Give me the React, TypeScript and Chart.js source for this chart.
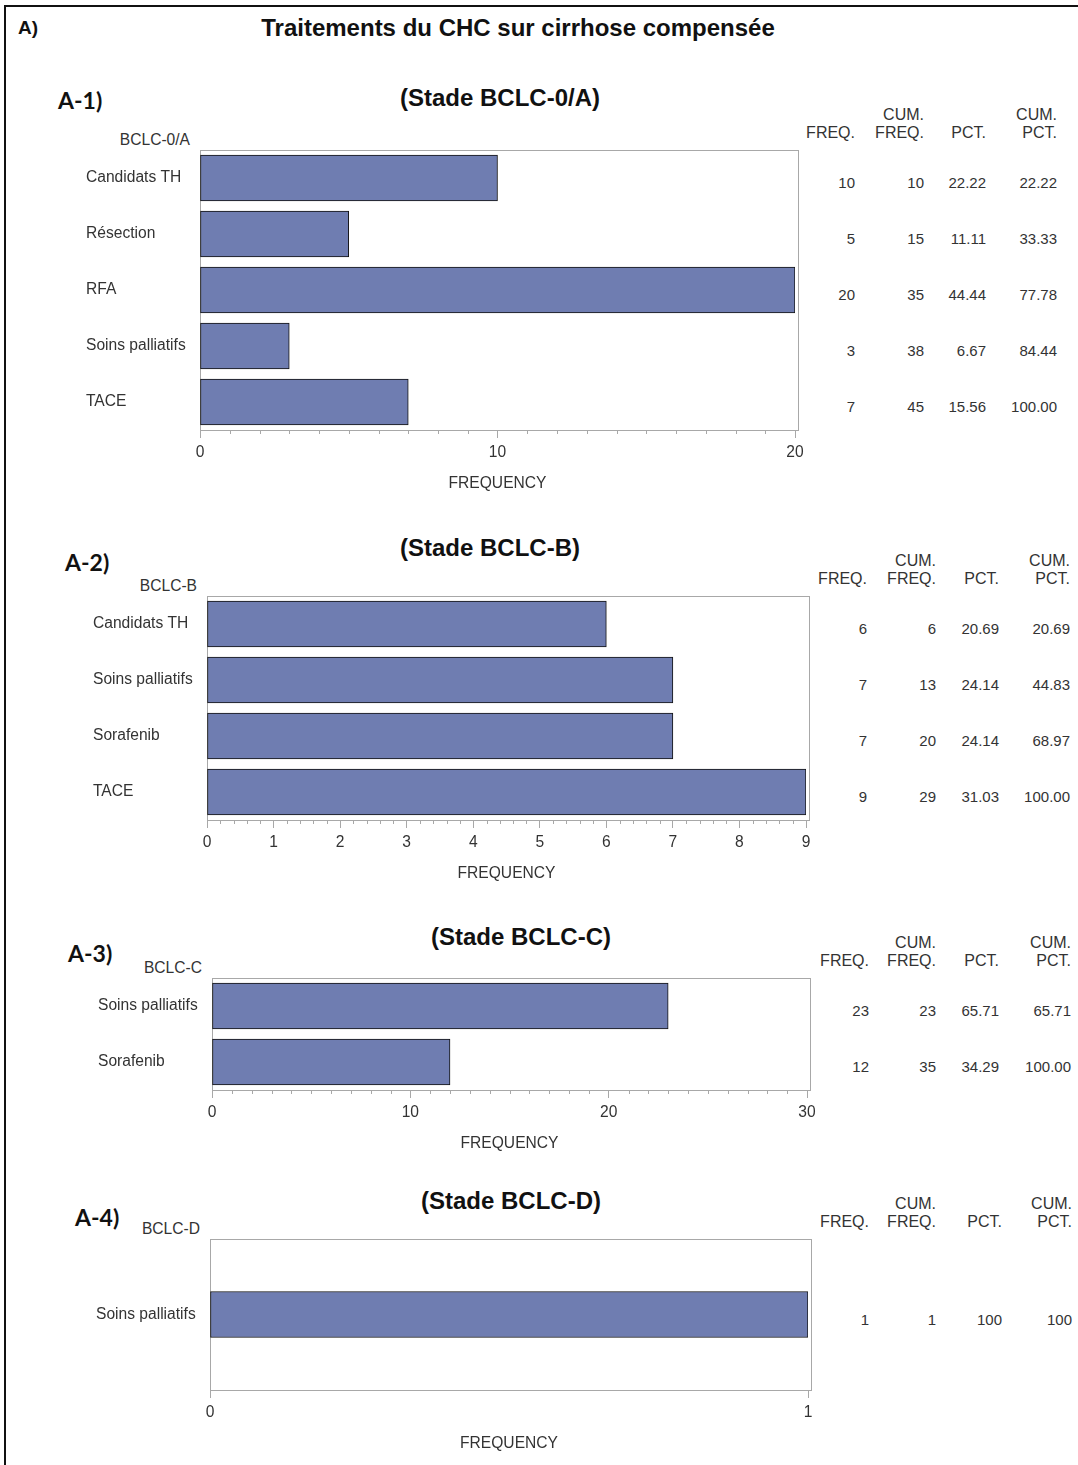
import React, { useEffect, useRef } from "react";
import { Chart, registerables } from "chart.js";

Chart.register(...registerables);

// ---------- data ----------
const mainTitle = "Traitements du CHC sur cirrhose compensée";
const panelTags = ["A-1)", "A-2)", "A-3)", "A-4)"];
const stageTitles = ["(Stade BCLC-0/A)", "(Stade BCLC-B)", "(Stade BCLC-C)", "(Stade BCLC-D)"];
const stageNames = ["BCLC-0/A", "BCLC-B", "BCLC-C", "BCLC-D"];
const axisTitle = "FREQUENCY";
const headLine1 = ["", "CUM.", "", "CUM."];
const headLine2 = ["FREQ.", "FREQ.", "PCT.", "PCT."];

const cats1 = ["Candidats TH", "Résection", "RFA", "Soins palliatifs", "TACE"];
const freq1 = [10, 5, 20, 3, 7];
const cumFreq1 = ["10", "15", "35", "38", "45"];
const pct1 = ["22.22", "11.11", "44.44", "6.67", "15.56"];
const cumPct1 = ["22.22", "33.33", "77.78", "84.44", "100.00"];

const cats2 = ["Candidats TH", "Soins palliatifs", "Sorafenib", "TACE"];
const freq2 = [6, 7, 7, 9];
const cumFreq2 = ["6", "13", "20", "29"];
const pct2 = ["20.69", "24.14", "24.14", "31.03"];
const cumPct2 = ["20.69", "44.83", "68.97", "100.00"];

const cats3 = ["Soins palliatifs", "Sorafenib"];
const freq3 = [23, 12];
const cumFreq3 = ["23", "35"];
const pct3 = ["65.71", "34.29"];
const cumPct3 = ["65.71", "100.00"];

const cats4 = ["Soins palliatifs"];
const freq4 = [1];
const cumFreq4 = ["1"];
const pct4 = ["100"];
const cumPct4 = ["100"];

const axisMax = [20, 9, 30, 1];
const majorStep = [10, 1, 10, 1];
const minorStep = [1, 0.2, 1, 0];

// ---------- layout (positions only) ----------
type Layout = {
  labelX: number; frameLeft: number; frameTop: number; frameBottom: number; valueRight: number;
  tagX: number; tagY: number; titleX: number; titleY: number; cols: number[];
};
const layouts: Layout[] = [
  { labelX: 86, frameLeft: 200, frameTop: 150, frameBottom: 430, valueRight: 795, tagX: 58, tagY: 100, titleX: 500, titleY: 98, cols: [855, 924, 986, 1057] },
  { labelX: 93, frameLeft: 207, frameTop: 596, frameBottom: 820, valueRight: 806, tagX: 65, tagY: 562, titleX: 490, titleY: 548, cols: [867, 936, 999, 1070] },
  { labelX: 98, frameLeft: 212, frameTop: 978, frameBottom: 1090, valueRight: 807, tagX: 68, tagY: 953, titleX: 521, titleY: 937, cols: [869, 936, 999, 1071] },
  { labelX: 96, frameLeft: 210, frameTop: 1239, frameBottom: 1390, valueRight: 808, tagX: 75, tagY: 1217, titleX: 511, titleY: 1201, cols: [869, 936, 1002, 1072] },
];

const FONT = "'Liberation Sans', Arial, Helvetica, sans-serif";
const TEXT = "#333333";
const FRAME = "#a8a8a8";
const BAR = "#6f7db1";
const LABEL_SIZE = 15.6;

const PAD_TOP = 10;
const PAD_RIGHT = 20;
const XAXIS_H = 63;

type PanelData = {
  cats: string[]; freq: number[]; cols: string[][];
};
const panels: PanelData[] = [
  { cats: cats1, freq: freq1, cols: [freq1.map(String), cumFreq1, pct1, cumPct1] },
  { cats: cats2, freq: freq2, cols: [freq2.map(String), cumFreq2, pct2, cumPct2] },
  { cats: cats3, freq: freq3, cols: [freq3.map(String), cumFreq3, pct3, cumPct3] },
  { cats: cats4, freq: freq4, cols: [freq4.map(String), cumFreq4, pct4, cumPct4] },
];

function Txt(props: { x: number; y: number; text: string; size: number; bold?: boolean; align?: "left" | "right" | "center"; family?: string; color?: string }) {
  const { x, y, text, size, bold, align = "left", family = FONT, color = TEXT } = props;
  const tx = align === "left" ? "0" : align === "right" ? "-100%" : "-50%";
  return (
    <div
      style={{
        position: "absolute", left: x, top: y, transform: `translate(${tx}, -50%)`,
        fontFamily: family, fontSize: size, fontWeight: bold ? 700 : 400, lineHeight: 1,
        whiteSpace: "nowrap", color,
      }}
    >
      {text}
    </div>
  );
}

function Panel({ idx }: { idx: number }) {
  const ref = useRef<HTMLCanvasElement | null>(null);
  const L = layouts[idx];
  const P = panels[idx];
  const width = L.valueRight + PAD_RIGHT - L.labelX;
  const height = PAD_TOP + (L.frameBottom - L.frameTop) + XAXIS_H;

  useEffect(() => {
    if (!ref.current) return;
    const minor = minorStep[idx];
    const major = majorStep[idx];
    const framePlugin = {
      id: "frame" + idx,
      beforeDatasetsDraw(chart: any) {
        const { ctx, chartArea } = chart;
        ctx.save();
        ctx.strokeStyle = FRAME;
        ctx.lineWidth = 1;
        ctx.strokeRect(
          Math.round(chartArea.left) + 0.5,
          Math.round(chartArea.top) + 0.5,
          Math.round(chartArea.right - chartArea.left) + 3,
          Math.round(chartArea.bottom - chartArea.top)
        );
        // minor ticks
        if (minor > 0) {
          const xs = chart.scales.x;
          const n = Math.round(axisMax[idx] / minor);
          ctx.beginPath();
          for (let i = 0; i <= n; i++) {
            const v = i * minor;
            const r = v / major;
            if (Math.abs(r - Math.round(r)) < 1e-6) continue;
            const px = Math.round(xs.getPixelForValue(v)) + 0.5;
            ctx.moveTo(px, chartArea.bottom);
            ctx.lineTo(px, chartArea.bottom + 4);
          }
          ctx.stroke();
        }
        ctx.restore();
      },
    };

    const chart = new Chart(ref.current, {
      type: "bar",
      data: {
        labels: P.cats,
        datasets: [
          {
            data: P.freq,
            backgroundColor: BAR,
            borderColor: "#111111",
            borderWidth: 1,
            borderSkipped: false,
            barThickness: 46,
          },
        ],
      },
      options: {
        indexAxis: "y",
        animation: false,
        responsive: false,
        maintainAspectRatio: false,
        events: [],
        layout: { padding: { top: PAD_TOP, right: PAD_RIGHT, left: 0, bottom: 0 } },
        plugins: { legend: { display: false }, tooltip: { enabled: false }, title: { display: false } },
        scales: {
          y: {
            type: "category",
            grid: { display: false },
            border: { display: false },
            ticks: {
              crossAlign: "far",
              color: TEXT,
              font: { family: FONT, size: LABEL_SIZE },
              padding: 0,
            },
            afterFit(scale: any) {
              scale.width = L.frameLeft - L.labelX;
            },
          },
          x: {
            type: "linear",
            min: 0,
            max: axisMax[idx],
            grid: { display: true, drawOnChartArea: false, drawTicks: true, tickLength: 8, color: FRAME, tickColor: FRAME },
            border: { display: false },
            ticks: {
              stepSize: major,
              autoSkip: false,
              maxRotation: 0,
              color: TEXT,
              padding: 5,
              font: { family: FONT, size: LABEL_SIZE },
            },
            title: {
              display: true,
              text: axisTitle,
              color: TEXT,
              font: { family: FONT, size: LABEL_SIZE },
              padding: { top: 0, bottom: 0 },
            },
            afterFit(scale: any) {
              scale.height = XAXIS_H;
            },
          },
        },
      },
      plugins: [framePlugin],
    } as any);
    return () => chart.destroy();
  }, [idx]);

  const band = (L.frameBottom - L.frameTop) / P.cats.length;

  return (
    <>
      <Txt x={L.tagX} y={L.tagY} text={panelTags[idx]} size={23} bold family="Lato, 'Open Sans', sans-serif" color="#111" />
      <Txt x={L.titleX} y={L.titleY} text={stageTitles[idx]} size={24} bold align="center" color="#111" />
      <Txt x={L.frameLeft - 10} y={L.frameTop - 10} text={stageNames[idx]} size={LABEL_SIZE} align="right" />
      {L.cols.map((cx, c) => (
        <React.Fragment key={"h" + c}>
          {headLine1[c] ? <Txt x={cx} y={L.frameTop - 35} text={headLine1[c]} size={16} align="right" /> : null}
          <Txt x={cx} y={L.frameTop - 17} text={headLine2[c]} size={16} align="right" />
        </React.Fragment>
      ))}
      {P.cats.map((_, r) =>
        L.cols.map((cx, c) => (
          <Txt key={"v" + r + "_" + c} x={cx} y={L.frameTop + (r + 0.5) * band + 4} text={P.cols[c][r]} size={15} align="right" />
        ))
      )}
      <canvas
        ref={ref}
        width={width}
        height={height}
        style={{ position: "absolute", left: L.labelX, top: L.frameTop - PAD_TOP, width, height }}
      />
    </>
  );
}

export default function App() {
  return (
    <div
      style={{
        position: "absolute", left: 0, top: 0, width: 1078, height: 1465, overflow: "hidden",
        background: "#ffffff", fontFamily: FONT,
      }}
    >
      <div style={{ position: "absolute", left: 4, top: 5, width: 2, height: 1465, background: "#111" }} />
      <div style={{ position: "absolute", left: 4, top: 5, width: 1078, height: 2, background: "#111" }} />
      <Txt x={18} y={27} text="A)" size={19} bold color="#111" />
      <Txt x={518} y={28} text={mainTitle} size={24} bold align="center" color="#111" />
      {[0, 1, 2, 3].map((i) => (
        <Panel key={i} idx={i} />
      ))}
    </div>
  );
}
